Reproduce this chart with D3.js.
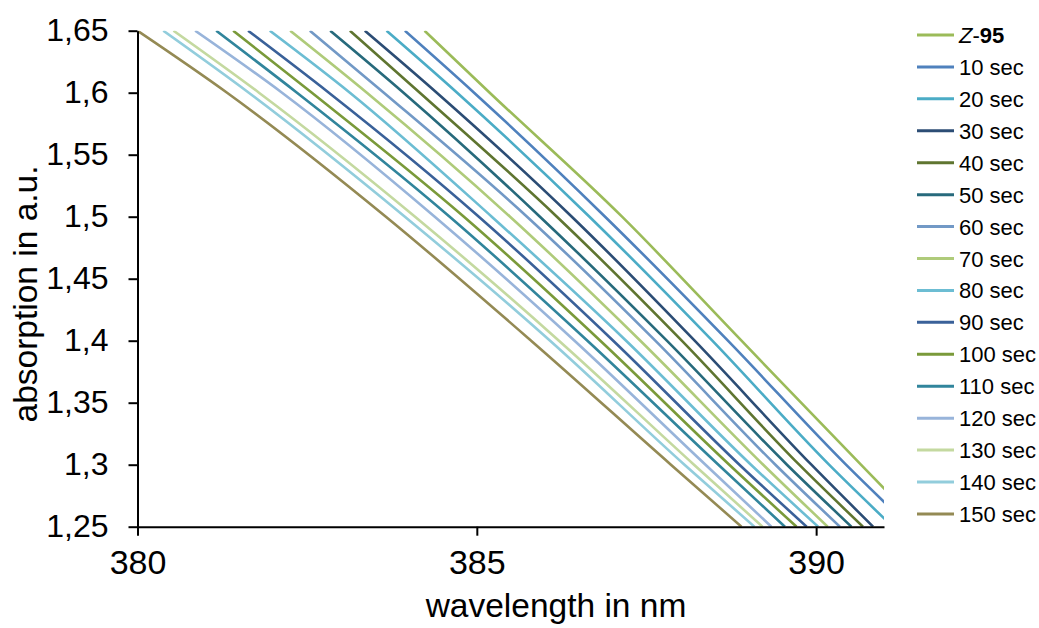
<!DOCTYPE html>
<html>
<head>
<meta charset="utf-8">
<script src="https://cdn.jsdelivr.net/npm/d3@7"></script>
<style>
  html, body { margin: 0; padding: 0; background: #fff; }
  svg { display: block; font-family: "Liberation Sans", Arial, sans-serif; }
</style>
</head>
<body>
<svg id="chart" width="1039" height="628"></svg>
<script>
// Axis ticks
const xTicks = [380, 385, 390];
const yTicks = [1.25, 1.3, 1.35, 1.4, 1.45, 1.5, 1.55, 1.6, 1.65];

// Absorption levels at which each spectrum's wavelength is listed (nm)
const absorptionLevels = [1.65, 1.6, 1.5, 1.4, 1.3, 1.25];

const z95    = [384.23, 385.19, 387.14, 388.90, 390.66, 391.55];
const sec10  = [383.94, 384.96, 386.89, 388.70, 390.44, 391.38];
const sec20  = [383.67, 384.71, 386.66, 388.47, 390.19, 391.13];
const sec30  = [383.35, 384.41, 386.40, 388.21, 389.93, 390.84];
const sec40  = [383.13, 384.16, 386.18, 388.02, 389.75, 390.69];
const sec50  = [382.84, 383.92, 385.93, 387.80, 389.57, 390.52];
const sec60  = [382.54, 383.63, 385.74, 387.63, 389.40, 390.35];
const sec70  = [382.25, 383.38, 385.49, 387.41, 389.22, 390.17];
const sec80  = [381.95, 383.13, 385.22, 387.20, 389.04, 390.03];
const sec90  = [381.63, 382.82, 385.03, 387.01, 388.87, 389.86];
const sec100 = [381.41, 382.57, 384.81, 386.82, 388.72, 389.71];
const sec110 = [381.16, 382.35, 384.60, 386.63, 388.56, 389.54];
const sec120 = [380.85, 382.13, 384.38, 386.44, 388.37, 389.34];
const sec130 = [380.53, 381.79, 384.09, 386.21, 388.20, 389.21];
const sec140 = [380.38, 381.64, 383.94, 386.08, 388.06, 389.09];
const sec150 = [380.00, 381.32, 383.66, 385.80, 387.86, 388.90];

const seriesNames = ["Z-95", "10 sec", "20 sec", "30 sec", "40 sec", "50 sec", "60 sec", "70 sec",
  "80 sec", "90 sec", "100 sec", "110 sec", "120 sec", "130 sec", "140 sec", "150 sec"];
const seriesWavelengths = [z95, sec10, sec20, sec30, sec40, sec50, sec60, sec70,
  sec80, sec90, sec100, sec110, sec120, sec130, sec140, sec150];
const seriesColors = ["#9bbb59", "#4f81bd", "#4bacc6", "#2c4d75", "#5f7530", "#276a7c", "#7299c6", "#afcb7a",
  "#6cbdd3", "#3a6199", "#7a9a3a", "#31859c", "#98b4da", "#c4d9a0", "#92cddc", "#948a54"];

const svg = d3.select("#chart");
const plot = { left: 137.5, right: 884, top: 30.7, bottom: 526.7 };

const x = d3.scaleLinear().domain([380, 391]).range([plot.left, plot.right]);
const y = d3.scaleLinear().domain([1.25, 1.65]).range([plot.bottom, plot.top]);

const locale = d3.formatLocale({ decimal: ",", thousands: ".", grouping: [3], currency: ["", ""] });
const fmtY = locale.format("~g");

// Clip the spectra to the plotting area
svg.append("defs").append("clipPath").attr("id", "plotClip")
  .append("rect")
  .attr("x", plot.left).attr("y", plot.top)
  .attr("width", plot.right - plot.left).attr("height", plot.bottom - plot.top);

const line = d3.line()
  .x(d => x(d[0]))
  .y(d => y(d[1]))
  .curve(d3.curveMonotoneX);

const lines = svg.append("g").attr("clip-path", "url(#plotClip)");
// Draw the last series first so Z-95 ends up on top
for (let i = seriesNames.length - 1; i >= 0; i--) {
  const pts = seriesWavelengths[i].map((w, k) => [w, absorptionLevels[k]]);
  lines.append("path")
    .datum(pts)
    .attr("fill", "none")
    .attr("stroke", seriesColors[i])
    .attr("stroke-width", 2.6)
    .attr("d", line);
}

// Axes
const yAxis = svg.append("g")
  .attr("transform", `translate(${plot.left},0)`)
  .call(d3.axisLeft(y).tickValues(yTicks).tickFormat(fmtY).tickSize(9).tickSizeOuter(0).tickPadding(20));
const xAxis = svg.append("g")
  .attr("transform", `translate(0,${plot.bottom})`)
  .call(d3.axisBottom(x).tickValues(xTicks).tickFormat(d3.format("d")).tickSize(9).tickSizeOuter(0).tickPadding(14));

[yAxis, xAxis].forEach(g => {
  g.select(".domain").attr("stroke", "#000").attr("stroke-width", 2);
  g.selectAll(".tick line").attr("stroke", "#000").attr("stroke-width", 2);
  g.selectAll(".tick text").attr("fill", "#000")
    .attr("font-family", "'Liberation Sans', Arial, sans-serif");
});
yAxis.selectAll(".tick text").attr("font-size", 32);
xAxis.selectAll(".tick text").attr("font-size", 34);

// Axis titles
svg.append("text")
  .attr("x", 556)
  .attr("y", 617)
  .attr("text-anchor", "middle")
  .attr("font-size", 33.5)
  .attr("fill", "#000")
  .text("wavelength in nm");

svg.append("text")
  .attr("transform", "translate(37,294) rotate(-90)")
  .attr("text-anchor", "middle")
  .attr("font-size", 33.5)
  .attr("fill", "#000")
  .text("absorption in a.u.");

// Legend
const legend = svg.append("g").attr("transform", "translate(917,35)");
seriesNames.forEach((name, i) => {
  const row = legend.append("g").attr("transform", `translate(0,${i * 31.93})`);
  row.append("line")
    .attr("x1", 0).attr("x2", 37).attr("y1", 0).attr("y2", 0)
    .attr("stroke", seriesColors[i]).attr("stroke-width", 3);
  const t = row.append("text")
    .attr("x", 42).attr("y", 8)
    .attr("font-size", 22)
    .attr("fill", "#000");
  if (name === "Z-95") {
    t.append("tspan").attr("font-style", "italic").text("Z");
    t.append("tspan").text("-");
    t.append("tspan").attr("font-weight", "bold").text("95");
  } else {
    t.text(name);
  }
});
</script>
</body>
</html>
